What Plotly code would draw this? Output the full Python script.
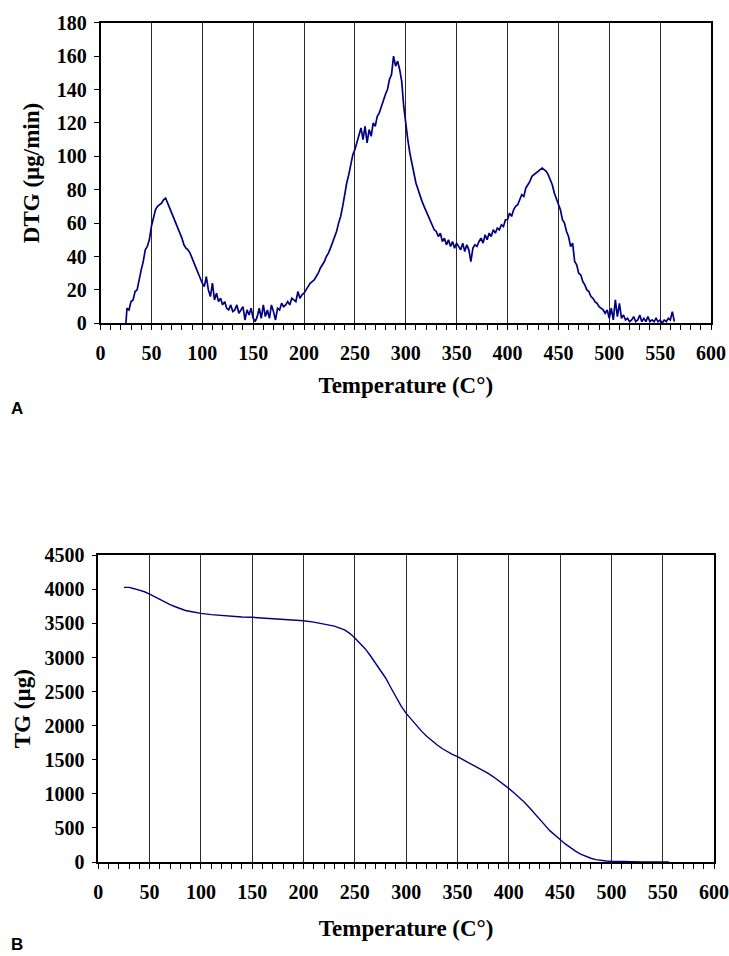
import plotly.graph_objects as go

# ---------------- DTG (panel A) ----------------
dtg_temperature = [
    25, 26, 28, 30, 32, 34, 36, 38, 40, 42, 44, 46, 48, 50, 52, 54, 56, 58, 60, 62, 64,
    66, 68, 70, 72, 74, 76, 78, 80, 82, 84, 86, 88, 90, 92, 94, 96, 98, 100,
    102, 104, 106, 108, 110, 112, 114, 116, 118, 120, 122, 124, 126, 128, 130,
    132, 134, 136, 138, 140, 142, 144, 146, 148, 150, 152, 154, 156, 158, 160,
    162, 164, 166, 168, 170, 172, 174, 176, 178, 180, 182, 184, 186, 188, 190,
    192, 194, 196, 198, 200, 202, 204, 206, 208, 210, 212, 214, 216, 218, 220,
    222, 224, 226, 228, 230, 232, 234, 236, 238, 240, 242, 244, 246, 248, 250,
    252, 254, 256, 258, 260, 262, 264, 266, 268, 270, 272, 274, 276, 278, 280,
    282, 284, 286, 288, 290, 292, 294, 296, 298, 300, 302, 304, 306, 308, 310,
    312, 314, 316, 318, 320, 322, 324, 326, 328, 330, 332, 334, 336, 338, 340,
    342, 344, 346, 348, 350, 352, 354, 356, 358, 360, 362, 364, 366, 368, 370,
    372, 374, 376, 378, 380, 382, 384, 386, 388, 390, 392, 394, 396, 398, 400,
    402, 404, 406, 408, 410, 412, 414, 416, 418, 420, 422, 424, 426, 428, 430,
    432, 434, 436, 438, 440, 442, 444, 446, 448, 450, 452, 454, 456, 458, 460,
    462, 464, 466, 468, 470, 472, 474, 476, 478, 480, 482, 484, 486, 488, 490,
    492, 494, 496, 498, 500, 502, 504, 506, 508, 510, 512, 514, 516, 518, 520,
    522, 524, 526, 528, 530, 532, 534, 536, 538, 540, 542, 544, 546, 548, 550,
    552, 554, 556, 558, 560, 562, 564,
]
dtg_values = [
    0, 9, 8, 13, 14, 19, 20, 27, 32, 37, 44, 46, 50, 58, 63, 68, 70, 71, 72, 74, 75,
    72, 69, 66, 63, 61, 58, 55, 51, 47, 45, 44, 42, 39, 36, 32, 30, 27, 24,
    22, 28, 20, 16, 24, 14, 18, 13, 15, 11, 13, 9, 8, 11, 7,
    8, 11, 6, 8, 10, 2, 8, 5, 9, 3, 1, 4, 9, 3, 11,
    4, 8, 3, 11, 7, 2, 9, 8, 12, 10, 11, 13, 11, 15, 14,
    13, 19, 15, 17, 18, 20, 22, 24, 25, 26, 28, 30, 33, 35, 37,
    40, 42, 45, 48, 52, 55, 60, 64, 70, 78, 84, 89, 95, 101, 104,
    108, 112, 117, 110, 118, 108, 116, 112, 120, 118, 124, 126, 130, 133, 137,
    140, 146, 149, 160, 154, 157, 152, 145, 130, 118, 110, 102, 95, 90, 84,
    80, 77, 73, 70, 67, 64, 61, 58, 56, 55, 52, 54, 49, 51, 47,
    50, 46, 49, 45, 48, 46, 44, 48, 43, 47, 44, 37, 45, 47, 46,
    49, 51, 48, 53, 50, 54, 52, 56, 54, 57, 56, 59, 58, 62, 62,
    66, 64, 68, 70, 71, 74, 77, 76, 81, 83, 85, 88, 89, 90, 91,
    92, 93, 92, 91, 89, 86, 83, 78, 75, 71, 68, 62, 60, 55, 52,
    46, 48, 37, 35, 30, 29, 25, 23, 20, 19, 16, 15, 13, 12, 10,
    9, 8, 6, 8, 3, 9, 2, 14, 4, 12, 3, 5, 2, 3, 1,
    2, 4, 1, 2, 5, 1, 3, 1, 4, 1, 2, 1, 3, 1, 2,
    0, 2, 1, 3, 2, 7, 1,
]

# ---------------- TG (panel B) ----------------
tg_temperature = [
    25, 30, 35, 40, 45, 50, 55, 60, 65, 70, 75, 80, 85, 90, 95, 100, 110, 120, 130,
    140, 150, 160, 170, 180, 190, 200, 210, 220, 230, 240, 245, 250, 255, 260, 265,
    270, 275, 280, 285, 290, 295, 300, 305, 310, 315, 320, 325, 330, 335, 340, 345,
    350, 355, 360, 365, 370, 375, 380, 385, 390, 395, 400, 405, 410, 415, 420, 425,
    430, 435, 440, 445, 450, 455, 460, 465, 470, 475, 480, 485, 490, 495, 500, 505,
    510, 520, 530, 540, 550, 556,
]
tg_values = [
    4030, 4030, 4010, 3990, 3965, 3930, 3890, 3850, 3810, 3775, 3745, 3715, 3690,
    3675, 3660, 3648, 3630, 3615, 3602, 3595, 3590, 3582, 3575, 3565, 3552, 3540,
    3520, 3495, 3460, 3405, 3355, 3285, 3210, 3130, 3030, 2925, 2820, 2700, 2560,
    2420, 2290, 2180, 2090, 2000, 1920, 1845, 1780, 1720, 1665, 1620, 1580, 1545,
    1505, 1465, 1425, 1385, 1345, 1300, 1250, 1195, 1140, 1080, 1015, 950, 880, 800,
    710, 630, 545, 460, 390, 330, 265, 210, 160, 115, 80, 55, 35, 22, 15, 10, 7, 4,
    2, 1, 0, 0, 0,
]

x_ticks = [0, 50, 100, 150, 200, 250, 300, 350, 400, 450, 500, 550, 600]
dtg_ticks = [0, 20, 40, 60, 80, 100, 120, 140, 160, 180]
tg_ticks = [0, 500, 1000, 1500, 2000, 2500, 3000, 3500, 4000, 4500]

LINE = "#000080"
SERIF = "Liberation Serif"
W, H = 729, 956

fig = go.Figure()
fig.add_trace(go.Scatter(x=dtg_temperature, y=dtg_values, mode="lines",
                         line=dict(color=LINE, width=1.7), xaxis="x", yaxis="y",
                         showlegend=False))
fig.add_trace(go.Scatter(x=tg_temperature, y=tg_values, mode="lines",
                         line=dict(color=LINE, width=1.4), xaxis="x2", yaxis="y2",
                         showlegend=False))

tickfont = dict(family=SERIF, size=20, color="black", weight="bold")
titlefont = dict(family=SERIF, size=23, color="black", weight="bold")


def xaxis(domain, anchor, standoff):
    return dict(
        domain=domain, anchor=anchor, range=[0, 600], tickvals=x_ticks,
        ticktext=[str(v) for v in x_ticks], automargin=False,
        showgrid=True, gridcolor="#2a2a2a", gridwidth=1,
        ticks="outside", ticklen=5, tickcolor="black", tickwidth=1.2,
        ticklabelstandoff=6,
        minor=dict(dtick=10, ticks="outside", ticklen=5, tickcolor="black",
                   tickwidth=1.2, showgrid=False),
        showline=True, linecolor="black", linewidth=1.5, mirror=True,
        zeroline=False, tickfont=tickfont,
        title=dict(text="Temperature (C°)", font=titlefont, standoff=standoff),
    )


def yaxis(domain, anchor, rng, ticks, title, standoff):
    return dict(
        domain=domain, anchor=anchor, range=rng, tickvals=ticks,
        ticktext=[str(v) for v in ticks], automargin=False,
        showgrid=False, ticks="outside", ticklen=5, tickcolor="black", tickwidth=1.2,
        ticklabelstandoff=3,
        showline=True, linecolor="black", linewidth=1.5, mirror=True,
        zeroline=False, tickfont=tickfont,
        title=dict(text=title, font=titlefont, standoff=standoff),
    )


labelfont = dict(family="Liberation Sans", size=17, color="black", weight="bold")

fig.update_layout(
    width=W, height=H, margin=dict(l=0, r=0, t=0, b=0, autoexpand=False),
    paper_bgcolor="white", plot_bgcolor="white",
    xaxis=xaxis([100.5 / W, 711 / W], "y", 14),
    yaxis=yaxis([1 - 323.3 / H, 1 - 22.7 / H], "x", [0, 180], dtg_ticks,
                "DTG (µg/min)", 11),
    xaxis2=xaxis([98.3 / W, 714 / W], "y2", 18),
    yaxis2=yaxis([1 - 862 / H, 1 - 555.3 / H], "x2", [0, 4500], tg_ticks,
                 "TG (µg)", 7),
    annotations=[
        dict(text="A", x=9 / W, y=1 - 408 / H, xref="paper", yref="paper",
             xanchor="left", yanchor="middle", showarrow=False, font=labelfont),
        dict(text="B", x=9 / W, y=1 - 944 / H, xref="paper", yref="paper",
             xanchor="left", yanchor="middle", showarrow=False, font=labelfont),
    ],
)

fig.write_html(
    "out.html",
    config={"displayModeBar": False},
    post_script="document.body.style.margin='0';document.body.style.overflow='hidden';",
)
